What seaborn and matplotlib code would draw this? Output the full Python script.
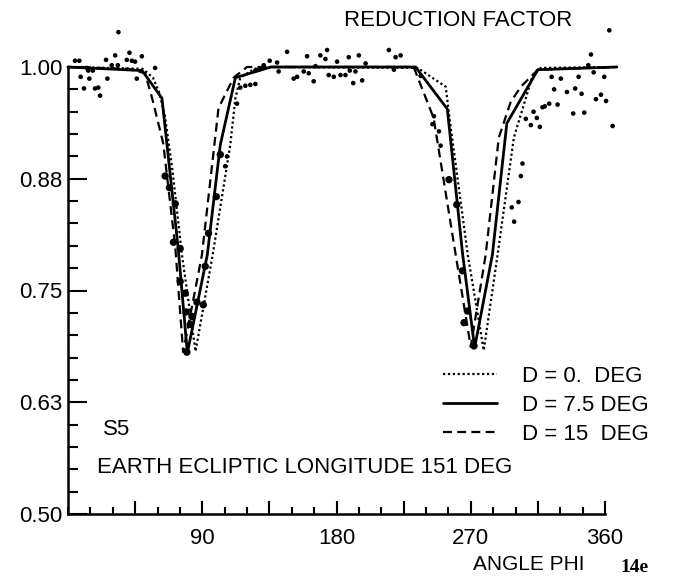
import matplotlib
matplotlib.use("Agg")
import matplotlib.pyplot as plt
from matplotlib.ticker import MultipleLocator
from matplotlib.lines import Line2D
import seaborn as sns

# ---------------- data ----------------
# model curves: reduction factor vs angle phi
phi_d0 = [0, 50, 57, 61, 65, 70, 76.4, 85.5, 97, 108.8, 112.2, 115.5, 125, 136,
          234.4, 253.2, 255.9, 268, 278.7, 288, 298.9, 311.6, 317, 368]
red_d0 = [1.0, 0.998, 0.988, 0.972, 0.945, 0.885, 0.790, 0.682, 0.790, 0.913, 0.965, 0.988, 0.998, 1.0,
          0.999, 0.978, 0.941, 0.790, 0.683, 0.790, 0.921, 0.991, 0.999, 1.0]

phi_d75 = [0, 49.7, 63.0, 74.0, 80.0, 93.4, 102.1, 112.2, 136, 233, 254.3, 264.6, 272.6,
           284.5, 294.2, 315, 368]
red_d75 = [1.0, 0.996, 0.965, 0.795, 0.680, 0.790, 0.913, 0.988, 1.0, 1.0, 0.953, 0.790, 0.686,
           0.790, 0.937, 0.997, 1.0]

phi_d15 = [0, 40.3, 51.7, 56.4, 63.8, 71.9, 77.2, 89.8, 100.9, 111.0, 120, 231.7, 245.1, 259.9,
           270, 280, 288.8, 296.8, 303.6, 315, 368]
red_d15 = [1.0, 0.998, 0.993, 0.965, 0.915, 0.799, 0.681, 0.790, 0.954, 0.988, 1.0, 1.0, 0.943, 0.790,
           0.687, 0.790, 0.921, 0.961, 0.978, 0.997, 1.0]

# observations (small dots)
obs_phi_small = [4.7, 7.6, 8.5, 12.6, 13.6, 14.3, 16.6, 10.7, 18.1, 20.3, 21.5, 26.4, 25.5, 31.6,
                 29.3, 33.4, 33.8, 39.4, 41.2, 42.8, 45.0, 49.5, 46.1, 58.4,
                 105.4, 106.6, 113.3, 115.5, 118.9, 122.2, 125.6, 125.6, 127.8, 131.2, 135.2,
                 140.2, 146.9, 141.2, 151.3, 153.6, 158.0, 161.4, 160.3, 164.7, 165.9, 169.2,
                 172.6, 173.7, 174.8, 178.2, 180.4, 182.7, 186.0, 188.2, 188.9, 191.2, 192.7,
                 195.0, 197.2, 199.5, 215.1, 219.6, 223.0, 218.5,
                 236.4, 245.3, 244.3, 248.7, 249.8,
                 297.5, 299.1, 302.0, 303.6, 304.7, 306.9, 310.3, 312.1, 314.3, 316.3, 318.1,
                 319.7, 322.6, 328.2, 325.9, 334.5, 340.0, 344.3, 324.2, 330.4, 342.3, 352.4,
                 359.5, 338.7, 346.1, 353.9, 357.3, 360.7, 365.1, 348.8, 350.6, 362.9]
obs_val_small = [1.007, 1.007, 0.989, 0.999, 0.996, 0.987, 0.996, 0.976, 0.976, 0.977, 0.968, 0.987,
                 1.008, 1.013, 1.002, 1.002, 1.039, 1.008, 1.016, 1.007, 1.006, 1.012, 0.987, 0.999,
                 0.889, 0.900, 0.959, 0.977, 0.979, 0.980, 0.981, 0.996, 0.997, 1.002, 1.007,
                 1.005, 1.017, 0.995, 0.987, 0.989, 0.995, 0.993, 1.012, 0.984, 1.001, 1.013,
                 1.009, 1.019, 0.991, 0.989, 1.006, 0.991, 0.991, 1.011, 0.996, 0.982, 0.995,
                 1.013, 0.985, 1.004, 1.019, 1.011, 1.013, 0.997,
                 0.990, 0.945, 0.936, 0.928, 0.912,
                 0.843, 0.827, 0.849, 0.878, 0.892, 0.942, 0.935, 0.950, 0.943, 0.933, 0.955,
                 0.956, 0.959, 0.958, 0.975, 0.972, 0.976, 0.970, 0.989, 0.987, 0.989, 0.994,
                 0.989, 0.948, 0.949, 0.964, 0.969, 0.962, 0.934, 1.002, 1.014, 1.041]

# observations (large dots, in the dips)
obs_phi_big = [65.1, 68.0, 71.9, 70.7, 75.2, 75.2, 78.6, 79.2, 81.9, 83.1, 86.4, 90.7, 92.0, 79.7,
               94.2, 99.4, 102.1, 255.4, 260.6, 264.4, 267.8, 265.5, 272.2]
obs_val_big = [0.878, 0.865, 0.847, 0.804, 0.797, 0.760, 0.747, 0.726, 0.712, 0.721, 0.737, 0.734,
               0.777, 0.681, 0.814, 0.855, 0.902, 0.874, 0.846, 0.772, 0.727, 0.714, 0.688]

x_ticks = [45, 90, 135, 180, 225, 270, 315, 360]
x_tick_labels = ["", "90", "", "180", "", "270", "", "360"]
y_ticks = [0.50, 0.625, 0.75, 0.875, 1.00]
y_tick_labels = ["0.50", "0.63", "0.75", "0.88", "1.00"]
legend_labels = ["D = 0.  DEG", "D = 7.5 DEG", "D = 15  DEG"]

# ---------------- style ----------------
sns.set_theme(style="ticks")
plt.rcParams['font.family'] = ['Liberation Sans', 'DejaVu Sans']
plt.rcParams['text.color'] = 'black'
plt.rcParams['xtick.color'] = 'black'
plt.rcParams['ytick.color'] = 'black'

W, H = 691, 588
fig = plt.figure(figsize=(W / 100, H / 100), dpi=100)
ax = fig.add_axes([68 / W, 1 - 514 / H, (605 - 68) / W, (514 - 67) / H])

dotted = (0, (1, 1.2))
dashed = (0, (4, 2.4))

sns.lineplot(x=phi_d0, y=red_d0, ax=ax, color='black', lw=1.6, linestyle=dotted,
             sort=False, estimator=None, legend=False)
sns.lineplot(x=phi_d75, y=red_d75, ax=ax, color='black', lw=2.0, linestyle='-',
             sort=False, estimator=None, legend=False)
sns.lineplot(x=phi_d15, y=red_d15, ax=ax, color='black', lw=1.6, linestyle=dashed,
             sort=False, estimator=None, legend=False)
for ln in ax.lines:
    ln.set_clip_on(False)

sns.scatterplot(x=obs_phi_small, y=obs_val_small, ax=ax, color='black', s=11,
                edgecolor='none', legend=False)
sns.scatterplot(x=obs_phi_big, y=obs_val_big, ax=ax, color='black', s=28,
                edgecolor='none', legend=False)
for c in ax.collections:
    c.set_clip_on(False)

ax.set_xlim(0, 360)
ax.set_ylim(0.5, 1.0)
ax.set_xlabel("")
ax.set_ylabel("")
sns.despine(ax=ax)
for s in ("left", "bottom"):
    ax.spines[s].set_linewidth(1.8)
    ax.spines[s].set_color('black')

ax.set_xticks(x_ticks, x_tick_labels)
ax.set_yticks(y_ticks, y_tick_labels)
ax.xaxis.set_minor_locator(MultipleLocator(15))
ax.yaxis.set_minor_locator(MultipleLocator(0.025))
ax.tick_params(axis='both', which='both', direction='in', width=1.5, labelsize=16)
ax.tick_params(axis='y', which='major', length=13.5, pad=4)
ax.tick_params(axis='y', which='minor', length=7)
ax.tick_params(axis='x', which='major', length=9.5, pad=10)
ax.tick_params(axis='x', which='minor', length=5)

handles = [Line2D([], [], color='black', lw=1.6, linestyle=dotted),
           Line2D([], [], color='black', lw=2.0, linestyle='-'),
           Line2D([], [], color='black', lw=1.6, linestyle=dashed)]
ax.legend(handles, legend_labels, loc='upper left',
          bbox_to_anchor=(443 / W, 1 - 366 / H), bbox_transform=fig.transFigure,
          frameon=False, fontsize=16, handlelength=2.45, handletextpad=1.1,
          labelspacing=0.36, borderpad=0, borderaxespad=0)

fig.text(458 / W, 1 - 20.5 / H, "REDUCTION FACTOR", fontsize=16, ha='center', va='center')
fig.text(529 / W, 1 - 565 / H, "ANGLE PHI", fontsize=15, ha='center', va='center')
fig.text(635 / W, 1 - 567 / H, "14e", fontsize=14, ha='center', va='center',
         family='Liberation Serif', weight='bold')
fig.text(103 / W, 1 - 429.5 / H, "S5", fontsize=16, ha='left', va='center')
fig.text(97 / W, 1 - 467.5 / H, "EARTH ECLIPTIC LONGITUDE 151 DEG", fontsize=16,
         ha='left', va='center')

fig.savefig("out.png", dpi=100)
